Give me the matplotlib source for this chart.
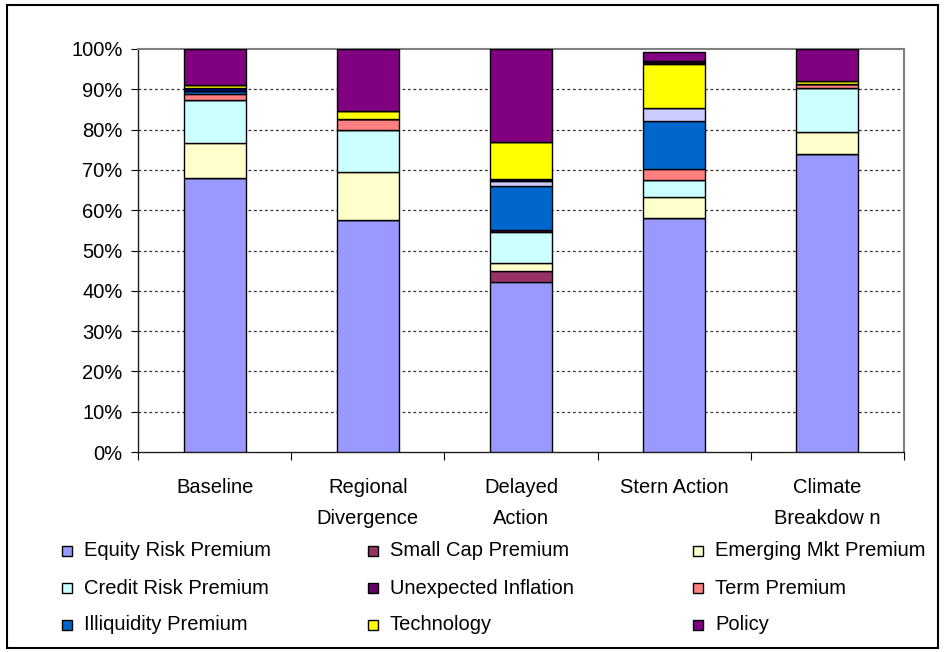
import matplotlib
matplotlib.use("Agg")
import matplotlib.pyplot as plt
from matplotlib.patches import Rectangle
from matplotlib.ticker import FixedLocator, FuncFormatter
import numpy as np

plt.rcParams['font.family'] = ['Liberation Sans', 'DejaVu Sans']

scenarios = ["Baseline", "Regional\nDivergence", "Delayed\nAction", "Stern Action", "Climate\nBreakdow n"]

# share of expected return by source, in percent (bottom to top of each column)
equity_risk = [68.1, 57.6, 42.3, 58.0, 73.9]
small_cap = [0.0, 0.0, 2.5, 0.0, 0.0]
emerging_mkt = [8.55, 12.0, 2.0, 5.3, 5.6]
credit_risk = [10.75, 10.3, 7.8, 4.1, 10.9]
unexpected_inflation = [0.0, 0.0, 0.5, 0.0, 0.0]
term_premium = [1.45, 2.85, 0.0, 2.75, 0.9]
illiquidity = [0.7, 0.0, 10.95, 12.05, 0.0]
other_light = [0.0, 0.0, 1.15, 3.1, 0.0]
other_navy = [0.8, 0.0, 0.6, 0.0, 0.0]
technology = [0.7, 1.95, 9.1, 11.1, 0.8]
other_dark = [0.0, 0.0, 0.0, 0.7, 0.0]
policy = [8.95, 15.3, 23.1, 2.15, 7.9]

series = [
    ("Equity Risk Premium", equity_risk, "#9999FF"),
    ("Small Cap Premium", small_cap, "#993366"),
    ("Emerging Mkt Premium", emerging_mkt, "#FFFFCC"),
    ("Credit Risk Premium", credit_risk, "#CCFFFF"),
    ("Unexpected Inflation", unexpected_inflation, "#660066"),
    ("Term Premium", term_premium, "#FF8080"),
    ("Illiquidity Premium", illiquidity, "#0066CC"),
    (None, other_light, "#CCCCFF"),
    (None, other_navy, "#000080"),
    ("Technology", technology, "#FFFF00"),
    (None, other_dark, "#1A001A"),
    ("Policy", policy, "#800080"),
]

W, H = 948, 652
fig = plt.figure(figsize=(W / 100, H / 100), dpi=100)
ax = fig.add_axes([138 / W, 1 - 452 / H, (904 - 138) / W, (452 - 49) / H])

x = np.arange(len(scenarios))
bottom = np.zeros(len(scenarios))
legend_items = []
for name, vals, color in series:
    v = np.array(vals, dtype=float)
    ax.bar(x, v, width=0.405, bottom=bottom, color=color,
           edgecolor="black", linewidth=1.0, zorder=3)
    bottom += v
    if name is not None:
        legend_items.append((name, color))

ax.set_xlim(-0.5, len(scenarios) - 0.5)
ax.set_ylim(0, 100)

# y axis
ax.set_yticks(np.arange(0, 101, 10))
ax.yaxis.set_major_formatter(FuncFormatter(lambda v, p: f"{int(v)}%"))
ax.tick_params(axis="y", direction="out", length=5, width=0.8, pad=6,
               labelsize=14.5, colors="black")
for yv in range(10, 100, 10):
    ax.axhline(yv, color="#333333", linewidth=0.9, linestyle=(0, (2.2, 2.2)), zorder=1)

# x axis: labels at centres, tick marks on category boundaries
ax.set_xticks(x)
ax.set_xticklabels(scenarios, fontsize=14.5, linespacing=1.75, va="top")
ax.tick_params(axis="x", which="major", length=0, pad=19)
ax.xaxis.set_minor_locator(FixedLocator(np.arange(-0.5, len(scenarios), 1.0)))
ax.tick_params(axis="x", which="minor", direction="out", length=6, width=0.8)

for side in ("left", "bottom"):
    ax.spines[side].set_color("#202020")
    ax.spines[side].set_linewidth(1.0)
for side in ("top", "right"):
    ax.spines[side].set_color("#808080")
    ax.spines[side].set_linewidth(1.5)

# legend laid out in three rows of three
col_x = [62, 368, 693]
row_y = [551, 588, 625]
box = 10
for i, (name, color) in enumerate(legend_items):
    r, c = divmod(i, 3)
    cx, cy = col_x[c], row_y[r]
    fig.patches.append(Rectangle((cx / W, 1 - (cy + box / 2) / H), box / W, box / H,
                                 transform=fig.transFigure, facecolor=color,
                                 edgecolor="black", linewidth=1.0))
    fig.text((cx + box + 12) / W, 1 - cy / H, name, fontsize=14.5,
             va="center", ha="left")

# outer frame
fig.patches.append(Rectangle((7 / W, 1 - 648 / H), (938 - 7) / W, (648 - 5) / H,
                             transform=fig.transFigure, fill=False,
                             edgecolor="black", linewidth=1.5))

fig.savefig("out.png", dpi=100, facecolor="white")
